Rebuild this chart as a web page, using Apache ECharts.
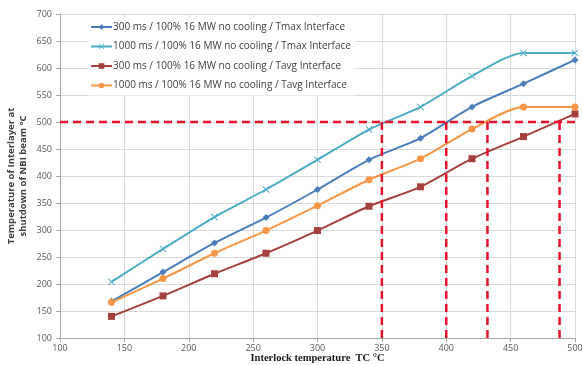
<!DOCTYPE html>
<html lang="en">
<head>
    <meta charset="UTF-8">
    <title>Interlayer temperature vs interlock temperature</title>
    <script src="https://cdn.jsdelivr.net/npm/echarts@6/dist/echarts.min.js"></script>
    <style>
        html, body { margin: 0; padding: 0; background: #fff; }
    </style>
</head>
<body>
    <div id="main" style="width: 583px;height:365px;"></div>
    <script type="text/javascript">
        // interlock temperature TC (x)
        var interlockTC = [140, 180, 220, 260, 300, 340, 380, 420, 460, 500];

        // series values
        var tmax300 = [168, 222, 276, 323, 375, 430, 470, 528, 571, 615];
        var tmax1000 = [204, 265, 324, 375, 430, 486, 528, 585, 628, 628];
        var tavg300 = [140, 178, 219, 257, 299, 344, 380, 432, 473, 515];
        var tavg1000 = [166, 210, 257, 299, 345, 393, 432, 487, 528, 528];

        var seriesNames = [
            '300 ms / 100% 16 MW no cooling / Tmax Interface',
            '1000 ms / 100% 16 MW no cooling / Tmax Interface',
            '300 ms / 100% 16 MW no cooling / Tavg Interface',
            '1000 ms / 100% 16 MW no cooling / Tavg Interface'
        ];

        // red dashed limit lines
        var limitTemp = 500;
        var crossTC = [350, 400, 432, 488];

        var xMin = 100, xMax = 500;
        var yMin = 100, yMax = 700;

        function pairs(ys) {
            return interlockTC.map(function (x, i) { return [x, ys[i]]; });
        }

        var crossX = 'path://M0,1L1,0L5,4L9,0L10,1L6,5L10,9L9,10L5,6L1,10L0,9L4,5Z';

        var mainSeries = [
            { data: tmax300, color: '#4A7EBB', symbol: 'diamond', size: 7 },
            { data: tmax1000, color: '#4BACC6', symbol: crossX, size: 7 },
            { data: tavg300, color: '#A5403D', symbol: 'rect', size: 7 },
            { data: tavg1000, color: '#F79646', symbol: 'circle', size: 7 }
        ].map(function (s, i) {
            return {
                name: seriesNames[i],
                type: 'line',
                smooth: 0.25,
                data: pairs(s.data),
                symbol: s.symbol,
                symbolSize: s.size,
                showAllSymbol: true,
                lineStyle: { color: s.color, width: 2 },
                itemStyle: { color: s.color },
                z: 3
            };
        });

        var dashStyle = { color: '#E8102A', width: 2.5, type: [8, 5] };
        var limitSegments = [[[xMin, limitTemp], [xMax, limitTemp]]].concat(
            crossTC.map(function (x) { return [[x, yMin], [x, limitTemp]]; })
        );
        var limitSeries = limitSegments.map(function (seg) {
            return {
                type: 'line',
                data: seg,
                symbol: 'none',
                silent: true,
                lineStyle: dashStyle,
                z: 4
            };
        });

        var myChart = echarts.init(document.getElementById('main'));

        var option = {
            animation: false,
            backgroundColor: '#fff',
            grid: { left: 60, right: 8, top: 14, bottom: 27, outerBoundsMode: 'none' },
            legend: {
                data: seriesNames,
                orient: 'vertical',
                left: 88,
                top: 17,
                itemWidth: 21,
                itemHeight: 7,
                itemGap: 7.5,
                backgroundColor: '#fff',
                padding: [4, 4, 4, 2],
                textStyle: {
                    fontFamily: 'Open Sans',
                    fontSize: 10,
                    lineHeight: 12,
                    color: '#404040',
                    padding: [0, 0, 0, -4]
                }
            },
            xAxis: {
                type: 'value',
                min: xMin,
                max: xMax,
                interval: 50,
                name: 'Interlock temperature  TC \u00b0C',
                nameLocation: 'middle',
                nameGap: 15,
                nameMoveOverlap: false,
                nameTextStyle: {
                    fontFamily: 'Liberation Serif',
                    fontWeight: 'bold',
                    fontSize: 10.5,
                    color: '#1a1a1a'
                },
                axisLine: { show: true, lineStyle: { color: '#A6A6A6' } },
                axisTick: { show: true, length: 4, lineStyle: { color: '#A6A6A6' } },
                axisLabel: { fontFamily: 'Open Sans', fontSize: 9, color: '#595959', margin: 6 },
                splitLine: { show: true, lineStyle: { color: '#D9D9D9' } }
            },
            yAxis: {
                type: 'value',
                min: yMin,
                max: yMax,
                interval: 50,
                name: 'Temperature of Interlayer at\nshutdown of NBI beam \u00b0C',
                nameLocation: 'middle',
                nameGap: 31,
                nameMoveOverlap: false,
                nameTextStyle: {
                    fontFamily: 'Open Sans',
                    fontWeight: 'bold',
                    fontSize: 9.5,
                    lineHeight: 12,
                    color: '#404040'
                },
                axisLine: { show: true, lineStyle: { color: '#A6A6A6' } },
                axisTick: { show: true, length: 4, lineStyle: { color: '#A6A6A6' } },
                axisLabel: { fontFamily: 'Open Sans', fontSize: 9, color: '#595959', margin: 8 },
                splitLine: { show: true, lineStyle: { color: '#D9D9D9' } }
            },
            series: mainSeries.concat(limitSeries)
        };

        myChart.setOption(option);
    </script>
</body>
</html>
